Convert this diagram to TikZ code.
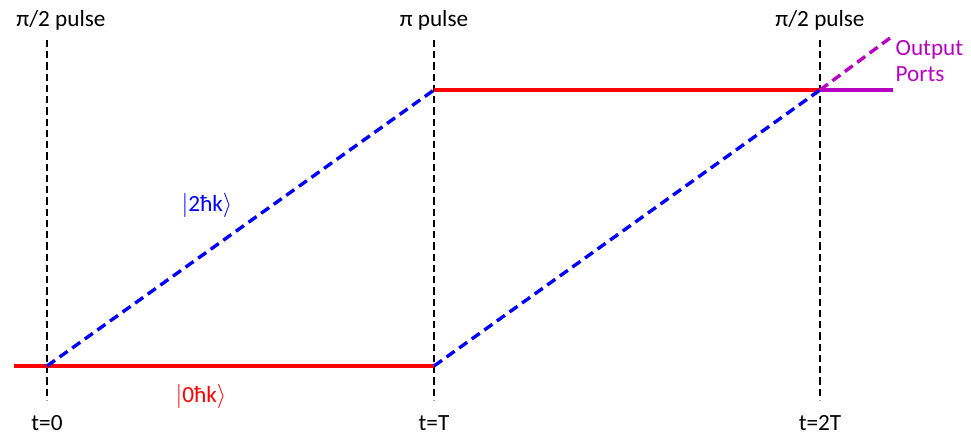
\documentclass[tikz,border=0pt]{standalone}
\usepackage{fontspec}
\setmainfont{Carlito}
\usetikzlibrary{positioning}
\definecolor{pathred}{HTML}{FF0000}
\definecolor{pathblue}{HTML}{0000FF}
\definecolor{portpurple}{HTML}{B800C0}

\begin{document}
\begin{tikzpicture}[x=0.025cm, y=-0.025cm,
    pulse/.style={draw=black, line width=1.1pt, dash pattern=on 5pt off 3pt},
    lower/.style={draw=pathred, line width=2.4pt},
    upper/.style={draw=pathblue, line width=2.4pt, dash pattern=on 7pt off 4pt},
    port/.style={draw=portpurple, line width=2.4pt},
    lbl/.style={font=\fontsize{16.5}{19}\selectfont, inner sep=1pt}
]
\useasboundingbox (0,0) rectangle (971,440);

% pulse lines
\coordinate (p0top) at (47,40);  \coordinate (p0bot) at (47,400);
\coordinate (p1top) at (434,40); \coordinate (p1bot) at (434,400);
\coordinate (p2top) at (820,40); \coordinate (p2bot) at (820,400);
\draw[pulse] (p0top) -- (p0bot);
\draw[pulse] (p1top) -- (p1bot);
\draw[pulse] (p2top) -- (p2bot);

\node[lbl] (pulse0) at (61,20) {π/2 pulse};
\node[lbl] (pulse1) at (434,20) {π pulse};
\node[lbl] (pulse2) at (820,20) {π/2 pulse};
\node[lbl] (t0) at (47,423) {t=0};
\node[lbl] (t1) at (434,423) {t=T};
\node[lbl] (t2) at (820,423) {t=2T};

% paths
\coordinate (start) at (14,366);
\coordinate (split) at (47,366);
\coordinate (mirA) at (434,366);
\coordinate (mirB) at (434,90);
\coordinate (merge) at (820,90);
\coordinate (outA) at (893,90);
\coordinate (outB) at (890,38);

\draw[lower] (start) -- (mirA);
\draw[lower] (mirB) -- (merge);
\draw[upper] (split) -- (mirB);
\draw[upper] (mirA) -- (merge);
\draw[port] (merge) -- (outA);
\draw[port, dash pattern=on 7pt off 4pt] (merge) -- (outB);

\node[lbl, text=pathblue] (ket2) at (207,205) {$\big|$2ħk$\big\rangle$};
\node[lbl, text=pathred] (ket0) at (201,396) {$\big|$0ħk$\big\rangle$};
\node[lbl, text=portpurple, align=left, anchor=west] (ports) at (894,61) {Output\\Ports};
\end{tikzpicture}
\end{document}
